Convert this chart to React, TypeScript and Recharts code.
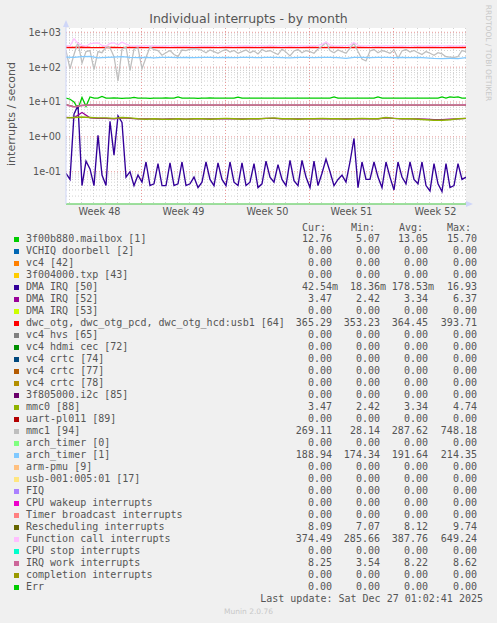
import React from "react";
import { LineChart, Line, XAxis, YAxis, CartesianGrid, ReferenceLine } from "recharts";

// ---------- time axis (hours from left edge of the month window) ----------
const FINE_STEP_HOURS = 8;
const COARSE_STEP_HOURS = 16;
const X_DOMAIN = [0, 800];
const weekLabels = ["Week 48", "Week 49", "Week 50", "Week 51", "Week 52"];
const weekLabelHours = [67, 235, 403, 571, 739];
const weekStartHours = [151, 319, 487, 655];
const firstDayHour = 7;
const HOURS_PER_DAY = 24;

// ---------- y axis (log) ----------
const Y_DOMAIN = [0.01184, 1328.5];
const yMajorTicks = [0.1, 1, 10, 100, 1000];
const yTickLabels = ["1e-01", "1e+00", "1e+01", "1e+02", "1e+03"];
const yMinorDecades = [0.01, 0.1, 1, 10, 100];
const yMinorMultipliers = [2, 3, 4, 5, 6, 7, 8, 9];

// ---------- series values (8 h samples) ----------
const mailbox = [
  13, 12, 10, 6.5, 13.5, 7.5, 14, 13, 13, 14.5,
  13, 13, 13.2, 13, 12.8, 13, 13, 13.5, 13, 13,
  13, 12.8, 13, 13, 13, 13.2, 13, 13, 14, 13,
  13, 13, 13, 12.8, 13, 13, 13.2, 13, 13, 13,
  13, 13, 13, 13.8, 13, 13, 13, 13, 13, 13,
  12.9, 13, 13, 13, 13, 13, 13, 13, 13, 13,
  13, 13, 13, 13, 13, 13, 13, 14, 13, 13,
  13, 13, 13, 13, 13, 13, 13, 13, 14, 13,
  13, 13, 13, 13, 13, 13, 13, 13, 13, 13,
  13, 13, 13, 13, 14, 13, 14, 13.5, 14, 13,
  13,
];

const dmaIrq50 = [
  0.09, 0.06, 4.5, 8, 0.04, 0.2, 0.12, 0.04, 1.1, 0.08,
  0.04, 2.8, 0.3, 4, 2.6, 0.07, 0.1, 0.04, 0.08, 0.05,
  0.19, 0.04, 0.045, 0.17, 0.04, 0.04, 0.18, 0.04, 0.045, 0.19,
  0.04, 0.045, 0.07, 0.035, 0.05, 0.19, 0.06, 0.04, 0.18, 0.06,
  0.04, 0.19, 0.05, 0.04, 0.18, 0.04, 0.05, 0.17, 0.035, 0.045,
  0.2, 0.07, 0.05, 0.16, 0.06, 0.04, 0.21, 0.055, 0.04, 0.21,
  0.07, 0.035, 0.2, 0.04, 0.09, 0.23, 0.1, 0.04, 0.06, 0.08,
  0.05, 0.19, 0.9, 0.035, 0.19, 0.06, 0.06, 0.19, 0.07, 0.035,
  0.19, 0.07, 0.03, 0.19, 0.07, 0.045, 0.19, 0.06, 0.045, 0.19,
  0.04, 0.028, 0.17, 0.045, 0.027, 0.17, 0.035, 0.04, 0.17, 0.06,
  0.07,
];

const mmc1 = [
  300, 90, 230, 520, 130, 280, 300, 85, 280, 260,
  380, 360, 200, 40, 330, 380, 80, 330, 360, 90,
  190, 380, 320, 300, 220, 260, 300, 230, 200, 310,
  300, 330, 340, 330, 300, 260, 310, 280, 250, 290,
  320, 270, 300, 250, 280, 310, 260, 290, 240, 320,
  280, 300, 260, 230, 330, 270, 210, 290, 320, 260,
  300, 280, 250, 330, 400, 520, 300, 260, 310, 280,
  250, 350, 480, 280, 170, 150, 290, 320, 260, 300,
  280, 250, 310, 180, 290, 320, 270, 300, 260, 230,
  280, 250, 220, 260, 240, 200, 195, 190, 200, 300,
  280,
];

const functionCall = [
  420, 400, 650, 480, 420, 400, 470, 490, 500, 420,
  400, 480, 500, 430, 520, 460, 415, 408, 412, 405,
  412, 408, 415, 406, 410, 413, 407, 415, 409, 406,
  412, 408, 406, 415, 411, 408, 406, 412, 415, 408,
  406, 412, 408, 415, 406, 412, 408, 406, 412, 415,
  408, 420, 412, 406, 412, 408, 415, 406, 412, 408,
  406, 415, 412, 420, 450, 530, 430, 412, 408, 415,
  412, 430, 510, 420, 408, 406, 412, 415, 408, 406,
  412, 408, 415, 406, 412, 408, 406, 415, 412, 408,
  406, 412, 408, 415, 406, 408, 412, 408, 406, 415,
  412,
];

// ---------- series values (16 h samples) ----------
const dwcOtg = [
  368, 366, 372, 365, 364, 366, 365, 363, 366, 365,
  364, 366, 365, 364, 365, 366, 364, 365, 366, 364,
  365, 363, 365, 366, 364, 365, 366, 364, 365, 363,
  365, 366, 364, 365, 368, 364, 365, 366, 364, 365,
  363, 365, 366, 364, 365, 366, 365, 364, 365, 366,
  365,
];

const archTimer1 = [
  195, 190, 200, 205, 185, 190, 195, 200, 192, 188,
  190, 186, 190, 192, 188, 190, 189, 191, 190, 188,
  190, 189, 191, 190, 188, 190, 192, 189, 186, 190,
  191, 189, 190, 192, 188, 180, 190, 191, 189, 190,
  191, 189, 190, 188, 190, 186, 178, 177, 178, 177,
  189,
];

const mmc0 = [
  3.5, 3.6, 3.7, 3.6, 3.5, 3.5, 3.4, 3.6, 3.5, 3.3,
  3.2, 3.3, 3.2, 3.2, 3.3, 3.2, 3.3, 3.3, 3.2, 3.3,
  3.4, 3.3, 3.2, 3.3, 3.3, 3.4, 3.5, 3.3, 3.3, 3.2,
  3.3, 3.3, 3.4, 3.3, 3.3, 3.2, 3.3, 3.4, 3.3, 3.3,
  3.6, 3.4, 3.3, 3.3, 3.2, 3.1, 3.0, 3.0, 3.1, 3.3,
  3.4,
];

const dmaIrq52 = [
  3.6, 3.5, 5.0, 3.5, 3.4, 3.4, 3.3, 3.5, 3.4, 3.3,
  3.3, 3.3, 3.2, 3.3, 3.3, 3.2, 3.3, 3.3, 3.3, 3.3,
  3.3, 3.3, 3.3, 3.3, 3.3, 3.4, 3.4, 3.3, 3.3, 3.3,
  3.3, 3.3, 3.3, 3.3, 3.3, 3.3, 3.3, 3.3, 3.3, 3.3,
  3.5, 3.4, 3.3, 3.3, 3.3, 3.2, 3.1, 3.1, 3.2, 3.3,
  3.4,
];

const rescheduling = [
  8.5, 7.4, 8.0, 8.2, 8.2, 8.15, 8.15, 8.2, 8.15, 8.15,
  8.15, 8.1, 8.15, 8.15, 8.15, 8.1, 8.15, 8.15, 8.15, 8.15,
  8.15, 8.15, 8.1, 8.15, 8.15, 8.15, 8.15, 8.1, 8.15, 8.15,
  8.15, 8.15, 8.15, 8.1, 8.15, 8.15, 8.15, 8.15, 8.1, 8.15,
  8.15, 8.15, 8.15, 8.15, 8.15, 8.1, 8.15, 8.15, 8.15, 8.15,
  8.1,
];

const irqWork = [
  8.3, 7.2, 8.0, 8.2, 8.2, 8.2, 8.2, 8.2, 8.2, 8.2,
  8.2, 8.2, 8.2, 8.2, 8.2, 8.2, 8.2, 8.2, 8.2, 8.2,
  8.2, 8.2, 8.2, 8.2, 8.2, 8.2, 8.2, 8.2, 8.2, 8.2,
  8.2, 8.2, 8.2, 8.2, 8.2, 8.2, 8.2, 8.2, 8.2, 8.2,
  8.2, 8.2, 8.2, 8.2, 8.2, 8.2, 8.2, 8.2, 8.2, 8.2,
  8.25,
];

// ---------- legend ----------
const seriesNames = [
  "3f00b880.mailbox [1]", "VCHIQ doorbell [2]", "vc4 [42]", "3f004000.txp [43]",
  "DMA IRQ [50]", "DMA IRQ [52]", "DMA IRQ [53]", "dwc_otg, dwc_otg_pcd, dwc_otg_hcd:usb1 [64]",
  "vc4 hvs [65]", "vc4 hdmi cec [72]", "vc4 crtc [74]", "vc4 crtc [77]", "vc4 crtc [78]",
  "3f805000.i2c [85]", "mmc0 [88]", "uart-pl011 [89]", "mmc1 [94]", "arch_timer [0]",
  "arch_timer [1]", "arm-pmu [9]", "usb-001:005:01 [17]", "FIQ", "CPU wakeup interrupts",
  "Timer broadcast interrupts", "Rescheduling interrupts", "Function call interrupts",
  "CPU stop interrupts", "IRQ work interrupts", "completion interrupts", "Err",
];
const seriesColors = [
  "#00CC00", "#0066B3", "#FF8000", "#FFCC00", "#330099", "#990099", "#CCFF00", "#FF0000",
  "#808080", "#008F00", "#00487D", "#B35A00", "#B38F00", "#6B006B", "#8FB300", "#B30000",
  "#BEBEBE", "#80FF80", "#80C9FF", "#FFC080", "#FFE680", "#AA80FF", "#EE00CC", "#FF8080",
  "#666600", "#FFBFFF", "#00FFCC", "#CC6699", "#999900", "#00CC00",
];
const curValues = ["12.76","0.00","0.00","0.00","42.54m","3.47","0.00","365.29","0.00","0.00","0.00","0.00","0.00","0.00","3.47","0.00","269.11","0.00","188.94","0.00","0.00","0.00","0.00","0.00","8.09","374.49","0.00","8.25","0.00","0.00"];
const minValues = ["5.07","0.00","0.00","0.00","18.36m","2.42","0.00","353.23","0.00","0.00","0.00","0.00","0.00","0.00","2.42","0.00","28.14","0.00","174.34","0.00","0.00","0.00","0.00","0.00","7.07","285.66","0.00","3.54","0.00","0.00"];
const avgValues = ["13.05","0.00","0.00","0.00","178.53m","3.34","0.00","364.45","0.00","0.00","0.00","0.00","0.00","0.00","3.34","0.00","287.62","0.00","191.64","0.00","0.00","0.00","0.00","0.00","8.12","387.76","0.00","8.22","0.00","0.00"];
const maxValues = ["15.70","0.00","0.00","0.00","16.93","6.37","0.00","393.71","0.00","0.00","0.00","0.00","0.00","0.00","4.74","0.00","748.18","0.00","214.35","0.00","0.00","0.00","0.00","0.00","9.74","649.24","0.00","8.62","0.00","0.00"];
const statHeaders = ["Cur:", "Min:", "Avg:", "Max:"];

const TITLE = "Individual interrupts - by month";
const Y_LABEL = "interrupts / second";
const LAST_UPDATE = "Last update: Sat Dec 27 01:02:41 2025";
const MUNIN_VERSION = "Munin 2.0.76";
const RRD_CREDIT = "RRDTOOL / TOBI OETIKER";

// ---------- derived ----------
const toRows = (values: number[], step: number) => values.map((v, i) => ({ t: i * step, v }));

const plotted = [
  { key: "mailbox", color: seriesColors[0], rows: toRows(mailbox, FINE_STEP_HOURS), w: 1.25 },
  { key: "dma50", color: seriesColors[4], rows: toRows(dmaIrq50, FINE_STEP_HOURS), w: 1.35 },
  { key: "dma52", color: seriesColors[5], rows: toRows(dmaIrq52, COARSE_STEP_HOURS), w: 1.25 },
  { key: "dwc", color: seriesColors[7], rows: toRows(dwcOtg, COARSE_STEP_HOURS), w: 1.4 },
  { key: "mmc0", color: seriesColors[14], rows: toRows(mmc0, COARSE_STEP_HOURS), w: 1.4 },
  { key: "mmc1", color: seriesColors[16], rows: toRows(mmc1, FINE_STEP_HOURS), w: 1.25 },
  { key: "arch1", color: seriesColors[18], rows: toRows(archTimer1, COARSE_STEP_HOURS), w: 1.25 },
  { key: "resched", color: seriesColors[24], rows: toRows(rescheduling, COARSE_STEP_HOURS), w: 1.0 },
  { key: "fcall", color: seriesColors[25], rows: toRows(functionCall, FINE_STEP_HOURS), w: 1.25 },
  { key: "irqwork", color: seriesColors[27], rows: toRows(irqWork, COARSE_STEP_HOURS), w: 1.6 },
];

const dayLineHours: number[] = [];
for (let h = firstDayHour; h <= X_DOMAIN[1]; h += HOURS_PER_DAY) {
  if (!weekStartHours.includes(h)) dayLineHours.push(h);
}
const yMinorValues: number[] = [];
yMinorDecades.forEach((d) => yMinorMultipliers.forEach((m) => yMinorValues.push(d * m)));

const FONT = "'DejaVu Sans', sans-serif";
const MONO = "'DejaVu Sans Mono', monospace";
const TEXT = "#555555";

const legendTop = 239.3;
const legendStep = 12;
const statRightEdges = [338, 386, 434, 483];
const headerLefts = [302, 351, 399, 447];

function withUnit(s: string) {
  return s.endsWith("m") ? s : s + " ";
}

export default function App() {
  return (
    <div
      style={{
        position: "absolute",
        left: 0,
        top: 0,
        width: 497,
        height: 623,
        background: "#F0F0F0",
        overflow: "hidden",
        fontFamily: FONT,
        color: TEXT,
      }}
    >
      <div
        style={{
          position: "absolute",
          left: 0,
          top: 10,
          width: 497,
          textAlign: "center",
          fontSize: 12.5,
          lineHeight: "17px",
          color: "#555",
        }}
      >
        {TITLE}
      </div>
      <div
        style={{
          position: "absolute",
          left: 11,
          top: 114,
          transform: "translate(-50%, -50%) rotate(-90deg)",
          whiteSpace: "nowrap",
          fontSize: 11,
          color: "#555",
        }}
      >
        {Y_LABEL}
      </div>
      <div
        style={{
          position: "absolute",
          left: 487.5,
          top: 53,
          transform: "translate(-50%, -50%) rotate(90deg)",
          whiteSpace: "nowrap",
          fontSize: 7.5,
          color: "#C8C8C8",
        }}
      >
        {RRD_CREDIT}
      </div>

      <div style={{ position: "absolute", left: 0, top: 0 }}>
        <LineChart width={497} height={230} margin={{ top: 28, right: 31, bottom: 0, left: 6 }}>
          <CartesianGrid
            fill="#FFFFFF"
            fillOpacity={1}
            stroke="#D2D2D2"
            strokeDasharray="1 2"
            horizontalValues={yMinorValues}
            verticalValues={dayLineHours}
          />
          <CartesianGrid
            fill="none"
            stroke="#E89A9A"
            strokeDasharray="1 2"
            horizontalValues={yMajorTicks}
            verticalValues={weekStartHours}
          />
          <XAxis
            type="number"
            dataKey="t"
            domain={X_DOMAIN}
            allowDataOverflow
            ticks={weekLabelHours}
            interval={0}
            tickFormatter={(_v: number, i: number) => weekLabels[i]}
            height={26}
            axisLine={false}
            tickLine={false}
            tickSize={0}
            tickMargin={4}
            tick={{ fill: "#555", fontSize: 9.7, fontFamily: FONT }}
          />
          <YAxis
            type="number"
            scale="log"
            domain={Y_DOMAIN}
            allowDataOverflow
            ticks={yMajorTicks}
            interval={0}
            tickFormatter={(v: number) => yTickLabels[yMajorTicks.indexOf(v)] ?? ""}
            width={60}
            axisLine={{ stroke: "#CFD6F8" }}
            tickLine={false}
            tickSize={0}
            tickMargin={5}
            tick={{ fill: "#555", fontSize: 9.7, fontFamily: FONT }}
          />
          {plotted.map((s) => (
            <Line
              key={s.key}
              data={s.rows}
              dataKey="v"
              type="linear"
              stroke={s.color}
              strokeWidth={s.w}
              dot={false}
              activeDot={false}
              isAnimationActive={false}
            />
          ))}
          <ReferenceLine y={Y_DOMAIN[0]} stroke="#7ED67E" strokeWidth={1.5} ifOverflow="visible" />
        </LineChart>
      </div>

      <svg
        width={497}
        height={230}
        style={{ position: "absolute", left: 0, top: 0, pointerEvents: "none" }}
      >
        <line x1={66} y1={25} x2={66} y2={28} stroke="#CFD6F8" strokeWidth={1} />
        <polygon points="66,20 63,27 69,27" fill="#CFD6F8" />
        <polygon points="473,204 466,201 466,207" fill="#CFD6F8" />
      </svg>

      <div
        style={{
          position: "absolute",
          left: 0,
          top: 0,
          width: 497,
          height: 623,
          fontFamily: MONO,
          fontSize: 10,
          whiteSpace: "pre",
          color: TEXT,
        }}
      >
        {statHeaders.map((h, k) => (
          <div key={h} style={{ position: "absolute", left: headerLefts[k], top: 228.3 - 6, lineHeight: "12px" }}>
            {h}
          </div>
        ))}
        {seriesNames.map((name, i) => {
          const cy = legendTop + legendStep * i;
          const stats = [curValues[i], minValues[i], avgValues[i], maxValues[i]];
          return (
            <React.Fragment key={name + i}>
              <div
                style={{
                  position: "absolute",
                  left: 14,
                  top: cy - 2.5,
                  width: 5,
                  height: 5,
                  background: seriesColors[i],
                }}
              />
              <div style={{ position: "absolute", left: 26, top: cy - 6, lineHeight: "12px" }}>{name}</div>
              {stats.map((s, k) => (
                <div
                  key={k}
                  style={{
                    position: "absolute",
                    right: 497 - statRightEdges[k],
                    top: cy - 6,
                    lineHeight: "12px",
                    textAlign: "right",
                  }}
                >
                  {withUnit(s)}
                </div>
              ))}
            </React.Fragment>
          );
        })}
        <div style={{ position: "absolute", right: 497 - 483, top: 599.3 - 6, lineHeight: "12px" }}>{LAST_UPDATE}</div>
      </div>
      <div
        style={{
          position: "absolute",
          left: 0,
          width: 497,
          top: 612 - 5,
          lineHeight: "10px",
          textAlign: "center",
          fontSize: 7.5,
          color: "#C8C8C8",
        }}
      >
        {MUNIN_VERSION}
      </div>
    </div>
  );
}
